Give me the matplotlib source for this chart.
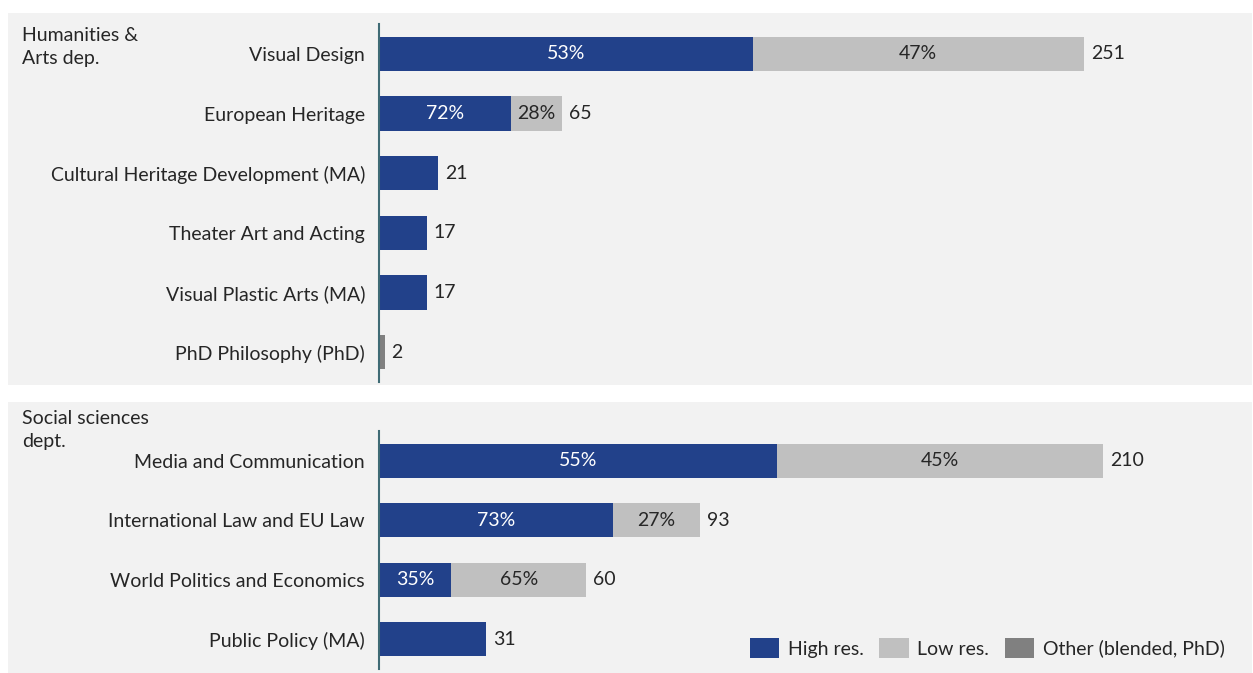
import matplotlib
matplotlib.use("Agg")
import matplotlib.pyplot as plt
from matplotlib.patches import Rectangle, Patch

plt.rcParams["font.family"] = ["Lato", "DejaVu Sans"]
FS = 14

HIGH = "#22418a"
LOW = "#c0c0c0"
OTHER = "#808080"
BG = "#f2f2f2"
AXIS = "#3f6b75"
TEXT = "#262626"

# Humanities & Arts
hum_labels = ["Visual Design", "European Heritage", "Cultural Heritage Development (MA)",
              "Theater Art and Acting", "Visual Plastic Arts (MA)", "PhD Philosophy (PhD)"]
hum_high = [133, 47, 21, 17, 17, 0]
hum_low = [118, 18, 0, 0, 0, 0]
hum_other = [0, 0, 0, 0, 0, 2]
hum_high_pct = ["53%", "72%", "", "", "", ""]
hum_low_pct = ["47%", "28%", "", "", "", ""]
hum_total = [251, 65, 21, 17, 17, 2]

# Social sciences
soc_labels = ["Media and Communication", "International Law and EU Law",
              "World Politics and Economics", "Public Policy (MA)"]
soc_high = [115.5, 68, 21, 31]
soc_low = [94.5, 25, 39, 0]
soc_other = [0, 0, 0, 0]
soc_high_pct = ["55%", "73%", "35%", ""]
soc_low_pct = ["45%", "27%", "65%", ""]
soc_total = [210, 93, 60, 31]

W, H = 1253, 673
fig = plt.figure(figsize=(W / 100, H / 100), dpi=100)
fig.patch.set_facecolor("white")

# panel backgrounds
for y0, y1 in [(13, 385), (402, 673)]:
    fig.patches.append(Rectangle((8 / W, 1 - y1 / H), (1252 - 8) / W, (y1 - y0) / H,
                                 transform=fig.transFigure, facecolor=BG,
                                 edgecolor="none", zorder=-5))


def panel(top, bottom, labels, high, low, other, hpct, lpct, total, xmax):
    ax = fig.add_axes([379 / W, 1 - bottom / H, (1252 - 379) / W, (bottom - top) / H])
    ax.set_facecolor("none")
    y = list(range(len(labels)))
    h = 0.57
    ax.barh(y, high, height=h, color=HIGH)
    ax.barh(y, low, left=high, height=h, color=LOW)
    left2 = [a + b for a, b in zip(high, low)]
    ax.barh(y, other, left=left2, height=h, color=OTHER)
    for i in y:
        if hpct[i]:
            ax.text(high[i] / 2, i, hpct[i], ha="center", va="center",
                    color="white", fontsize=FS)
        if lpct[i]:
            ax.text(high[i] + low[i] / 2, i, lpct[i], ha="center", va="center",
                    color=TEXT, fontsize=FS)
        ax.annotate(str(total[i]), (total[i], i), xytext=(5, 0),
                    textcoords="offset points", ha="left", va="center",
                    color=TEXT, fontsize=FS)
    ax.set_xlim(0, xmax)
    ax.set_ylim(len(labels) - 0.5, -0.5)
    ax.set_yticks(y)
    ax.set_yticklabels(labels, fontsize=FS, color=TEXT)
    ax.tick_params(axis="y", length=0, pad=10)
    ax.set_xticks([])
    for s in ["top", "right", "bottom"]:
        ax.spines[s].set_visible(False)
    ax.spines["left"].set_color(AXIS)
    ax.spines["left"].set_linewidth(1.5)
    ax.spines["left"].set_zorder(5)
    return ax


ax1 = panel(24, 382, hum_labels, hum_high, hum_low, hum_other,
            hum_high_pct, hum_low_pct, hum_total, 310.8)
ax2 = panel(431, 669, soc_labels, soc_high, soc_low, soc_other,
            soc_high_pct, soc_low_pct, soc_total, 253.2)

fig.text(22 / W, 1 - 27 / H, "Humanities &\nArts dep.", ha="left", va="top",
         fontsize=FS, color=TEXT, linespacing=1.42)
fig.text(22 / W, 1 - 410 / H, "Social sciences\ndept.", ha="left", va="top",
         fontsize=FS, color=TEXT, linespacing=1.42)

handles = [Patch(facecolor=HIGH, label="High res."),
           Patch(facecolor=LOW, label="Low res."),
           Patch(facecolor=OTHER, label="Other (blended, PhD)")]
fig.legend(handles=handles, loc="center right", bbox_to_anchor=(1242 / W, 1 - 648 / H),
           ncol=3, frameon=False, fontsize=FS, handlelength=1.5, handleheight=1.15,
           columnspacing=0.8, handletextpad=0.45, labelcolor=TEXT)

fig.savefig("out.png", dpi=100, facecolor="white")
